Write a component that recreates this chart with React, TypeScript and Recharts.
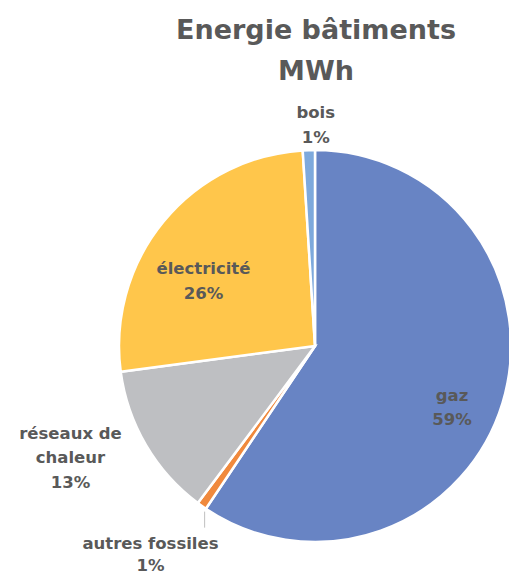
import React from "react";
import { PieChart, Pie, Cell } from "recharts";

const categories = ["gaz", "autres fossiles", "réseaux de chaleur", "électricité", "bois"];
const values = [59.4, 0.8, 12.7, 26.1, 1.0];
const colors = ["#6884C4", "#F0893D", "#BEBFC2", "#FFC64B", "#7EA9DC"];
const labelLines = [["gaz"], ["autres fossiles"], ["réseaux de", "chaleur"], ["électricité"], ["bois"]];

const data = categories.map((name, i) => ({ name, value: values[i] }));

// label placement: radius factor and angle offset (clockwise degrees)
const labelPlace = [
  { rf: 0.765, da: 7 },
  { rf: 1.355, da: 3 },
  { rf: 1.37, da: 6 },
  { rf: 0.66, da: -9 },
  { rf: 1.13, da: 2 },
];

const TEXT = "#595959";
const FONT = "'DejaVu Sans', sans-serif";
const RAD = Math.PI / 180;

const renderLabel = (props: any) => {
  const { cx, cy, midAngle, outerRadius, percent, index } = props;
  const p = labelPlace[index];
  const ang = midAngle - p.da;
  const x = cx + outerRadius * p.rf * Math.cos(-ang * RAD);
  const y = cy + outerRadius * p.rf * Math.sin(-ang * RAD);
  const lines = [...labelLines[index], `${Math.round(percent * 100)}%`];
  const lh = index === 1 ? 22 : 24.5;
  const y0 = y - ((lines.length - 1) * lh) / 2;
  let leader = null;
  if (index === 1) {
    const ex = cx + (outerRadius + 2) * Math.cos(-midAngle * RAD) + 4;
    const ey = cy + (outerRadius + 2) * Math.sin(-midAngle * RAD) + 4;
    leader = <line x1={ex} y1={ey} x2={ex} y2={ey + 16} stroke="#BFBFBF" strokeWidth={1} />;
  }
  return (
    <g>
      {leader}
      <text x={x} y={y0} textAnchor="middle" dominantBaseline="central" fill={TEXT} fontFamily={FONT} fontWeight="bold" fontSize={16.5}>
        {lines.map((l, i) => (
          <tspan key={i} x={x} y={y0 + i * lh} dominantBaseline="central">{l}</tspan>
        ))}
      </text>
    </g>
  );
};

export default function App() {
  return (
    <div style={{ position: "absolute", left: 0, top: 0, width: 509, height: 574, background: "#fff" }}>
      <PieChart width={509} height={574} margin={{ top: 0, right: 0, bottom: 0, left: 0 }}>
        <text x={316} y={29} textAnchor="middle" dominantBaseline="central" fill={TEXT} fontFamily={FONT} fontWeight="bold" fontSize={27}>
          Energie bâtiments
        </text>
        <text x={316} y={70} textAnchor="middle" dominantBaseline="central" fill={TEXT} fontFamily={FONT} fontWeight="bold" fontSize={27}>
          MWh
        </text>
        <Pie
          data={data}
          dataKey="value"
          nameKey="name"
          cx={315}
          cy={346}
          outerRadius={196}
          startAngle={90}
          endAngle={-270}
          stroke="#FFFFFF"
          strokeWidth={2.5}
          label={renderLabel}
          labelLine={false}
          isAnimationActive={false}
        >
          {data.map((d, i) => (
            <Cell key={d.name} fill={colors[i]} />
          ))}
        </Pie>
      </PieChart>
    </div>
  );
}
